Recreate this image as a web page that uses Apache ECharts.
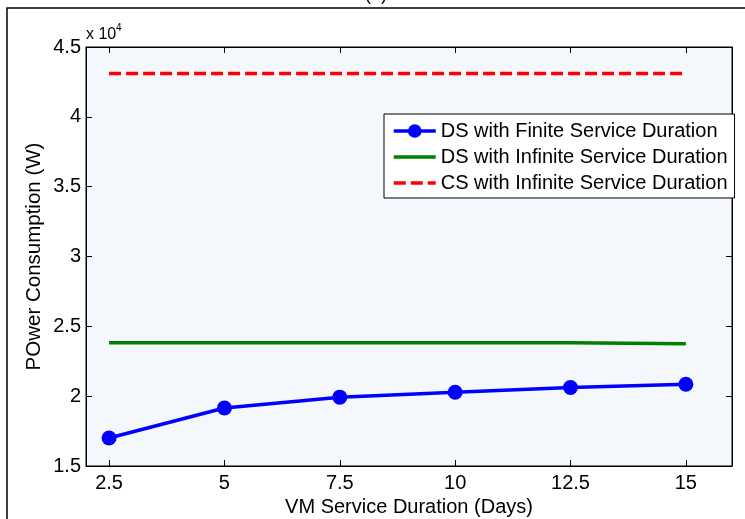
<!DOCTYPE html>
<html><head><meta charset="utf-8">
<script src="https://cdn.jsdelivr.net/npm/echarts@6/dist/echarts.min.js"></script>
<style>html,body{margin:0;padding:0;background:#fff}#c{width:745px;height:519px}</style>
</head><body><div id="c"></div>
<script>
var durations = [2.5, 5, 7.5, 10, 12.5, 15];
var dsFinite = [17000, 19150, 19930, 20280, 20620, 20850];
var dsInfinite = [23830, 23830, 23830, 23830, 23830, 23760];
var csInfinite = [43100, 43100, 43100, 43100, 43100, 43100];
var xTicks = [2.5, 5, 7.5, 10, 12.5, 15];
var seriesNames = ['DS with Finite Service Duration', 'DS with Infinite Service Duration', 'CS with Infinite Service Duration'];

function pairs(xs, ys){ return xs.map(function(x,i){return [x, ys[i]];}); }
var font = 'Liberation Sans, Arial, sans-serif';
var chart = echarts.init(document.getElementById('c'));
function tick(custom){
  var t = {inside:true,length:6,lineStyle:{color:'#000'}};
  if (custom) t.customValues = custom;
  return t;
}
var axisLine = {lineStyle:{color:'#000',width:1}};
var hidden = {itemStyle:{color:'rgba(0,0,0,0)',borderWidth:0}};
chart.setOption({
  animation:false,
  backgroundColor:'#fff',
  grid:{left:86,top:47,right:13,bottom:53,containLabel:false,outerBoundsMode:'none',
    show:true,backgroundColor:'#F4F7FC',borderColor:'#000',borderWidth:1},
  graphic:[
    {type:'rect',shape:{x:7,y:8,width:800,height:600},style:{fill:'none',stroke:'#000',lineWidth:1.5},silent:true},
    {type:'text',left:365,top:-14,style:{text:'(a)',font:'18px '+font,fill:'#000'}},
    {type:'text',left:86,top:27,style:{text:'x 10',font:'16px '+font,fill:'#000'}},
    {type:'text',left:116,top:23,style:{text:'4',font:'10px '+font,fill:'#000'}}
  ],
  legend:{
    orient:'vertical',left:384,top:114,
    backgroundColor:'#fff',borderColor:'#000',borderWidth:1,borderRadius:0,
    padding:[7,7,5,8],itemGap:6,itemWidth:42,itemHeight:17,
    lineStyle:{width:3.5},
    textStyle:{fontSize:20,fontFamily:font,color:'#000'},
    data:[
      {name:seriesNames[0]},
      Object.assign({name:seriesNames[1]},hidden),
      Object.assign({name:seriesNames[2]},hidden)
    ]
  },
  xAxis:[
    {type:'value',min:2,max:16,position:'bottom',
      name:'VM Service Duration (Days)',nameLocation:'middle',nameGap:31,nameMoveOverlap:false,
      nameTextStyle:{fontSize:20,fontFamily:font,color:'#000'},
      axisLine:axisLine,axisTick:tick(xTicks),splitLine:{show:false},
      axisLabel:{customValues:xTicks,fontSize:20,fontFamily:font,color:'#000',margin:7}},
    {type:'value',min:2,max:16,position:'top',axisLabel:{show:false},
      axisLine:axisLine,axisTick:tick(xTicks),splitLine:{show:false}}
  ],
  yAxis:[
    {type:'value',min:15000,max:45000,interval:5000,position:'left',
      name:'POwer Consumption (W)',nameLocation:'middle',nameGap:41,nameMoveOverlap:false,
      nameTextStyle:{fontSize:20.5,fontFamily:font,color:'#000'},
      axisLine:axisLine,axisTick:tick(),splitLine:{show:false},
      axisLabel:{fontSize:20,fontFamily:font,color:'#000',margin:5,formatter:function(v){return String(v/10000);}}},
    {type:'value',min:15000,max:45000,interval:5000,position:'right',axisLabel:{show:false},
      axisLine:axisLine,axisTick:tick(),splitLine:{show:false}}
  ],
  series:[
    {name:seriesNames[0],type:'line',data:pairs(durations,dsFinite),symbol:'circle',symbolSize:15,
      lineStyle:{color:'#0000FF',width:3.5},itemStyle:{color:'#0000FF'},z:3},
    {name:seriesNames[1],type:'line',data:pairs(durations,dsInfinite),symbol:'none',
      lineStyle:{color:'#008000',width:3.5},itemStyle:{color:'#008000'},z:2},
    {name:seriesNames[2],type:'line',data:pairs(durations,csInfinite),symbol:'none',
      lineStyle:{color:'#FF0000',width:3.5,type:[12,5]},itemStyle:{color:'#FF0000'},z:2}
  ]
});
</script></body></html>
